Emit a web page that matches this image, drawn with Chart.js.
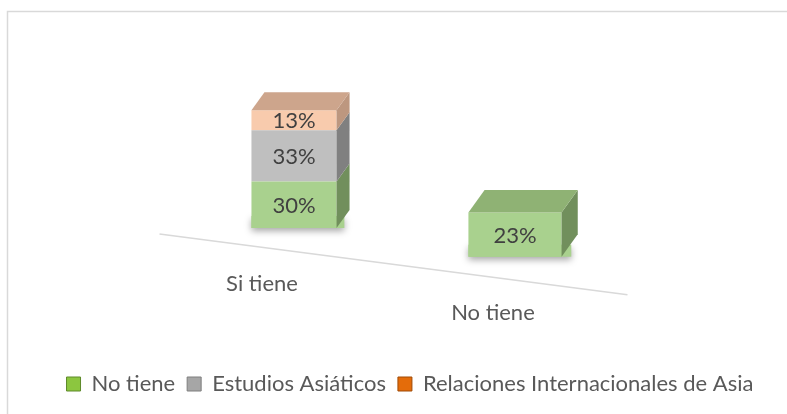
<!DOCTYPE html>
<html>
<head>
<meta charset="utf-8">
<script src="https://cdn.jsdelivr.net/npm/chart.js@4.4.0/dist/chart.umd.min.js"></script>
<style>
  html, body { margin: 0; padding: 0; background: #fff; }
  #wrap { width: 787px; height: 414px; }
</style>
</head>
<body>
<div id="wrap"><canvas id="chart" width="787" height="414"></canvas></div>
<script>
const categories = ["Si tiene", "No tiene"];
const seriesNames = ["No tiene", "Estudios Asiáticos", "Relaciones Internacionales de Asia"];
const noTiene = [30, 23];
const estudiosAsiaticos = [33, null];
const relacionesAsia = [13, null];

const frontColors = ["#A9D18E", "#BFBFBF", "#F8CBAD"];
const sideColors = ["#718F5C", "#808080", "#BD977F"];
const topColors = ["#8FB274", "#A3A3A3", "#CDA58C"];
const legendColors = ["#8CC63F", "#A6A6A6", "#E46C0A"];
const legendBorders = ["#5E8A2A", "#7F7F7F", "#A04B06"];

// fake 3d: floor tilt, nearer bars bigger
const SLOPE = 0.13;
const GROW = 0.0011;
const WIDEN = 0.00043;
const DEPTH_X = 13, DEPTH_Y = 18;
const FONT = "Lato";
const TEXT_SIZE = 22;

function firstX(chart) { return chart.scales.x.getPixelForValue(0); }
function zeroY(chart) { return chart.scales.y.getPixelForValue(0); }

const fake3d = {
  id: "fake3d",
  beforeDraw(chart) {
    const ctx = chart.ctx;
    ctx.save();
    ctx.fillStyle = "#fff";
    ctx.fillRect(0, 0, chart.width, chart.height);
    ctx.strokeStyle = "#D9D9D9";
    ctx.lineWidth = 1.5;
    ctx.strokeRect(7.5, 11.5, chart.width + 20, chart.height + 20);
    ctx.restore();
  },
  afterDatasetsUpdate(chart) {
    const x0 = firstX(chart), base = zeroY(chart);
    chart.data.datasets.forEach((ds, di) => {
      chart.getDatasetMeta(di).data.forEach(bar => {
        const g = 1 + GROW * (bar.x - x0);
        const shift = SLOPE * (bar.x - x0);
        bar.y = base + (bar.y - base) * g + shift;
        bar.base = base + (bar.base - base) * g + shift;
        bar.width = bar.width * (1 + WIDEN * (bar.x - x0));
      });
    });
  },
  beforeDatasetsDraw(chart) {
    const ctx = chart.ctx, area = chart.chartArea;
    const x0 = firstX(chart), base = zeroY(chart);
    // floor edge
    const xa = area.left - 24, xb = area.right + 2;
    ctx.save();
    ctx.strokeStyle = "#D9D9D9";
    ctx.lineWidth = 1.5;
    ctx.beginPath();
    ctx.moveTo(xa, base + SLOPE * (xa - x0) + 23.5);
    ctx.lineTo(xb, base + SLOPE * (xb - x0) + 23.5);
    ctx.stroke();
    // soft shadow under each stack
    categories.forEach((c, ci) => {
      const bar = chart.getDatasetMeta(0).data[ci];
      const g = 1 + GROW * (bar.x - x0);
      const l = bar.x - bar.width / 2;
      ctx.shadowColor = "rgba(0,0,0,0.35)";
      ctx.shadowBlur = 7;
      ctx.shadowOffsetY = 3;
      ctx.fillStyle = frontColors[0];
      ctx.fillRect(l, bar.base - 12, bar.width + DEPTH_X * g * 0.6, 12);
    });
    ctx.restore();
  },
  afterDatasetsDraw(chart) {
    const ctx = chart.ctx;
    const x0 = firstX(chart), base = zeroY(chart);
    ctx.save();
    categories.forEach((c, ci) => {
      let topBar = null, topDi = -1;
      chart.data.datasets.forEach((ds, di) => {
        if (!(ds.data[ci] > 0)) return;
        const bar = chart.getDatasetMeta(di).data[ci];
        const g = 1 + GROW * (bar.x - x0);
        const dx = DEPTH_X * g, dy = DEPTH_Y * g;
        const r = bar.x + bar.width / 2;
        ctx.fillStyle = sideColors[di];
        ctx.beginPath();
        ctx.moveTo(r, bar.base);
        ctx.lineTo(r, bar.y);
        ctx.lineTo(r + dx, bar.y - dy);
        ctx.lineTo(r + dx, bar.base - dy);
        ctx.closePath();
        ctx.fill();
        if (topBar === null || bar.y < topBar.y) { topBar = bar; topDi = di; }
      });
      if (topBar) {
        const g = 1 + GROW * (topBar.x - x0);
        const dx = DEPTH_X * g, dy = DEPTH_Y * g;
        const l = topBar.x - topBar.width / 2, r = topBar.x + topBar.width / 2;
        ctx.fillStyle = topColors[topDi];
        ctx.beginPath();
        ctx.moveTo(l, topBar.y);
        ctx.lineTo(r, topBar.y);
        ctx.lineTo(r + dx, topBar.y - dy);
        ctx.lineTo(l + dx, topBar.y - dy);
        ctx.closePath();
        ctx.fill();
      }
    });
    // value labels
    ctx.font = TEXT_SIZE + "px " + FONT;
    ctx.fillStyle = "#404040";
    ctx.textAlign = "center";
    ctx.textBaseline = "middle";
    chart.data.datasets.forEach((ds, di) => {
      chart.getDatasetMeta(di).data.forEach((bar, ci) => {
        const v = ds.data[ci];
        if (!(v > 0)) return;
        ctx.fillText(v + "%", bar.x, (bar.y + bar.base) / 2 + 1);
      });
    });
    // category labels on the floor
    ctx.fillStyle = "#595959";
    categories.forEach((c, ci) => {
      const x = chart.scales.x.getPixelForValue(ci);
      const lx = x - 32 + 0.045 * (x - x0);
      const ly = base + SLOPE * (x - x0) + 56;
      ctx.fillText(c, lx, ly);
    });
    ctx.restore();
  }
};

function draw() {
  const ctx = document.getElementById("chart").getContext("2d");
  new Chart(ctx, {
    type: "bar",
    data: {
      labels: categories,
      datasets: [
        { label: seriesNames[0], data: noTiene, backgroundColor: frontColors[0] },
        { label: seriesNames[1], data: estudiosAsiaticos, backgroundColor: frontColors[1] },
        { label: seriesNames[2], data: relacionesAsia, backgroundColor: frontColors[2] }
      ]
    },
    options: {
      responsive: false,
      animation: false,
      layout: { padding: { top: 104, left: 33, right: 0, bottom: 9 } },
      datasets: { bar: { categoryPercentage: 1, barPercentage: 0.385, borderWidth: 0, inflateAmount: 0, clip: false } },
      scales: {
        x: {
          stacked: true,
          ticks: { display: false }, grid: { display: false }, border: { display: false },
          afterFit: s => { s.height = 133; }
        },
        y: {
          stacked: true, min: 0, max: 80,
          ticks: { display: false }, grid: { display: false }, border: { display: false },
          afterFit: s => { s.width = 150.5; }
        },
        y2: {
          type: "linear", position: "right",
          ticks: { display: false }, grid: { display: false }, border: { display: false },
          afterFit: s => { s.width = 161.5; }
        }
      },
      plugins: {
        legend: {
          position: "bottom",
          labels: {
            font: { family: FONT, size: TEXT_SIZE },
            color: "#595959",
            boxWidth: 14, boxHeight: 14, padding: 12,
            generateLabels: chart => chart.data.datasets.map((ds, i) => ({
              text: ds.label,
              fillStyle: legendColors[i],
              strokeStyle: legendBorders[i],
              lineWidth: 1,
              fontColor: "#595959",
              hidden: false,
              datasetIndex: i
            }))
          }
        },
        tooltip: { enabled: false }
      }
    },
    plugins: [fake3d]
  });
}

document.fonts.load(TEXT_SIZE + "px " + FONT).then(draw, draw);
</script>
</body>
</html>
